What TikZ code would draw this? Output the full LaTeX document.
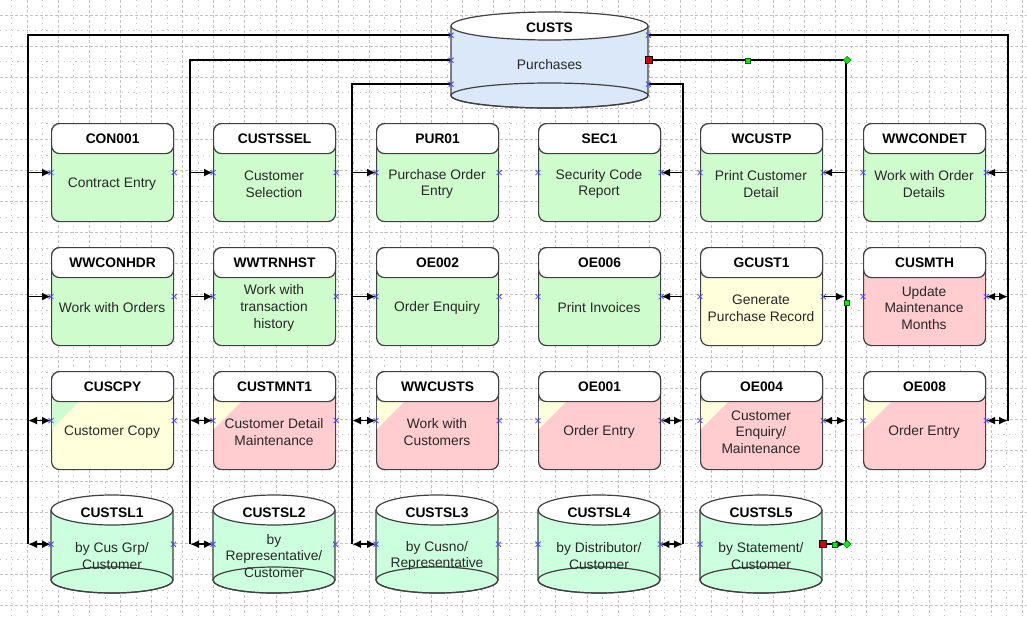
\documentclass[tikz,border=0pt]{standalone}
\usepackage{fontspec}
\setmainfont{Liberation Sans}
\usetikzlibrary{arrows.meta,calc,shapes.geometric}

\definecolor{bxgreen}{RGB}{206,252,204}
\definecolor{bxyellow}{RGB}{255,255,220}
\definecolor{bxpink}{RGB}{255,204,208}
\definecolor{bxmint}{RGB}{204,255,222}
\definecolor{bxblue}{RGB}{218,232,250}
\definecolor{outl}{RGB}{64,64,64}
\definecolor{txt}{RGB}{40,40,40}
\definecolor{gridc}{RGB}{195,195,195}
\definecolor{xblue}{RGB}{70,70,255}
\definecolor{mkred}{RGB}{210,0,0}
\definecolor{mkgreen}{RGB}{20,230,20}

\newcommand\hdfont{\fontsize{13.8}{16.6}\selectfont\bfseries}
\newcommand\bdfont{\fontsize{13.8}{16.6}\selectfont}

\tikzset{
  boxbody/.style={draw=outl, line width=1.2pt, rounded corners=8pt, minimum width=122pt,
    minimum height=98pt, inner sep=0pt, anchor=north west},
  boxhead/.style={draw=outl, fill=white, line width=1.2pt, rounded corners=8pt, minimum width=122pt,
    minimum height=30pt, inner sep=0pt, anchor=north west, font=\hdfont, text=black},
  boxtext/.style={align=center, font=\bdfont, text=txt, inner sep=0pt},
  cylnode/.style={minimum width=122pt, minimum height=98pt, inner sep=0pt, anchor=north west},
  cylline/.style={draw=outl, line width=1.2pt},
  conn/.style={line width=1.7pt, black},
  arr/.style={conn, -{Latex[length=9pt,width=8pt]}},
  darr/.style={conn, {Latex[length=9pt,width=8pt]}-{Latex[length=9pt,width=8pt]}},
  xm/.style={draw=xblue, line width=0.8pt},
  redsq/.style={draw=black, fill=mkred, line width=0.6pt, minimum size=7pt, inner sep=0pt},
  grnsq/.style={draw=black!60!green, fill=mkgreen, line width=0.4pt, minimum size=5pt, inner sep=0pt},
  grndia/.style={diamond, draw=black!60!green, fill=mkgreen, line width=0.4pt, minimum size=8pt, inner sep=0pt},
  majorgrid/.style={draw=gridc, line width=0.9pt, dash pattern=on 3pt off 2pt},
  minorgrid/.style={draw=gridc, line width=0.9pt, dash pattern=on 1.2pt off 4.6pt}
}

\newcommand\xmk[1]{\draw[xm] (#1) +(-2.5,-2.5) -- +(2.5,2.5) +(-2.5,2.5) -- +(2.5,-2.5);}

% name, x, y, fill, header, text, triangle colour
\newcommand\pbox[7]{%
  \node[boxbody, fill=#4] (#1) at (#2,#3) {};
  \ifx&#7&\else \fill[#7] ({#2+0.8},{#3+30}) -- ({#2+29},{#3+30}) -- ({#2+0.8},{#3+58}) -- cycle;\fi
  \node[boxhead] (#1-h) at (#2,#3) {#5};
  \node[boxtext] (#1-t) at ({#2+61},{#3+61}) {#6};
}

% name, x, y, header, text
\newcommand\cylbox[5]{%
  \node[cylnode] (#1) at (#2,#3) {};
  \filldraw[cylline, fill=bxmint] (#2,{#3+15}) -- (#2,{#3+85})
     arc[start angle=180, end angle=360, x radius=61pt, y radius=13pt] -- ({#2+122},{#3+15});
  \draw[cylline] ({#2+61},{#3+85}) ellipse [x radius=61pt, y radius=13pt];
  \filldraw[cylline, fill=white] ({#2+61},{#3+15}) ellipse [x radius=61pt, y radius=15pt];
  \node[font=\hdfont, inner sep=0pt] (#1-h) at ({#2+61},{#3+18}) {#4};
  \node[boxtext] (#1-t) at ({#2+61},{#3+61}) {#5};
}

\begin{document}
\begin{tikzpicture}[x=1pt, y=-1pt]
\useasboundingbox (0,0) rectangle (1027,616);
\fill[white] (0,0) rectangle (1027,616);

% grid
\foreach \i in {0,...,33} {
  \draw[majorgrid] ({-3.9+31.1*\i},0) -- ({-3.9+31.1*\i},616);
  \draw[minorgrid] ({11.65+31.1*\i},0) -- ({11.65+31.1*\i},616);
}
\foreach \i in {0,...,20} {
  \draw[majorgrid] (0,{15+31.1*\i}) -- (1027,{15+31.1*\i});
  \draw[minorgrid] (0,{-0.55+31.1*\i}) -- (1027,{-0.55+31.1*\i});
}

% CUSTS cylinder
\node[minimum width=197pt, minimum height=96pt, inner sep=0pt, anchor=north west] (custs) at (451,12) {};
\filldraw[cylline, fill=bxblue] (451,26) -- (451,95.5)
   arc[start angle=180, end angle=360, x radius=98.5pt, y radius=12.5pt] -- (648,26);
\draw[cylline] (549.5,95.5) ellipse [x radius=98.5pt, y radius=12.5pt];
\filldraw[cylline, fill=white] (549.5,26) ellipse [x radius=98.5pt, y radius=14pt];
\node[font=\hdfont, inner sep=0pt] (custs-h) at (549.5,28) {CUSTS};
\node[boxtext] (custs-t) at (549.5,65) {Purchases};

% row 1
\pbox{con001}{51}{123}{bxgreen}{CON001}{Contract Entry}{}
\pbox{custssel}{213}{123}{bxgreen}{CUSTSSEL}{Customer\\Selection}{}
\pbox{pur01}{376}{123}{bxgreen}{PUR01}{Purchase Order\\Entry}{}
\pbox{sec1}{538}{123}{bxgreen}{SEC1}{Security Code\\Report}{}
\pbox{wcustp}{700}{123}{bxgreen}{WCUSTP}{Print Customer\\Detail}{}
\pbox{wwcondet}{863}{123}{bxgreen}{WWCONDET}{Work with Order\\Details}{}
% row 2
\pbox{wwconhdr}{51}{247}{bxgreen}{WWCONHDR}{Work with Orders}{}
\pbox{wwtrnhst}{213}{247}{bxgreen}{WWTRNHST}{Work with\\transaction\\history}{}
\pbox{oe002}{376}{247}{bxgreen}{OE002}{Order Enquiry}{}
\pbox{oe006}{538}{247}{bxgreen}{OE006}{Print Invoices}{}
\pbox{gcust1}{700}{247}{bxyellow}{GCUST1}{Generate\\Purchase Record}{}
\pbox{cusmth}{863}{247}{bxpink}{CUSMTH}{Update\\Maintenance\\Months}{}
% row 3
\pbox{cuscpy}{51}{371}{bxyellow}{CUSCPY}{Customer Copy}{bxgreen}
\pbox{custmnt1}{213}{371}{bxpink}{CUSTMNT1}{Customer Detail\\Maintenance}{bxyellow}
\pbox{wwcusts}{376}{371}{bxpink}{WWCUSTS}{Work with\\Customers}{bxyellow}
\pbox{oe001}{538}{371}{bxpink}{OE001}{Order Entry}{bxyellow}
\pbox{oe004}{700}{371}{bxpink}{OE004}{Customer\\Enquiry/\\Maintenance}{bxyellow}
\pbox{oe008}{863}{371}{bxpink}{OE008}{Order Entry}{bxyellow}
% row 4
\cylbox{custsl1}{51}{495}{CUSTSL1}{by Cus Grp/\\Customer}
\cylbox{custsl2}{213}{495}{CUSTSL2}{by\\Representative/\\Customer}
\cylbox{custsl3}{376}{495}{CUSTSL3}{by Cusno/\\Representative}
\cylbox{custsl4}{538}{495}{CUSTSL4}{by Distributor/\\Customer}
\cylbox{custsl5}{700}{495}{CUSTSL5}{by Statement/\\Customer}

% bus columns
\coordinate (busA) at (28,0);
\coordinate (busB) at (190,0);
\coordinate (busC) at (352,0);
\coordinate (busE) at (683,0);
\coordinate (busF) at (846,0);
\coordinate (busD) at (1008,0);

% trunks
\draw[conn] ($(custs.west)+(0,-25)$) -| (busA |- custsl1.west);
\draw[conn] (custs.west) -| (busB |- custsl2.west);
\draw[conn] ($(custs.west)+(0,24)$) -| (busC |- custsl3.west);
\draw[conn] ($(custs.east)+(0,-25)$) -| (busD |- oe008.east);
\draw[conn] (custs.east) -| (busF |- custsl5.east);
\draw[conn] ($(custs.east)+(0,24)$) -| (busE |- custsl4.east);

% branches
\foreach \n in {con001,wwconhdr} \draw[arr] (busA |- \n.west) -- (\n.west);
\foreach \n in {cuscpy,custsl1} \draw[darr] (busA |- \n.west) -- (\n.west);
\foreach \n in {custssel,wwtrnhst} \draw[arr] (busB |- \n.west) -- (\n.west);
\foreach \n in {custmnt1,custsl2} \draw[darr] (busB |- \n.west) -- (\n.west);
\foreach \n in {pur01,oe002} \draw[arr] (busC |- \n.west) -- (\n.west);
\foreach \n in {wwcusts,custsl3} \draw[darr] (busC |- \n.west) -- (\n.west);
\foreach \n in {sec1,oe006} \draw[arr] (busE |- \n.east) -- (\n.east);
\foreach \n in {oe001,custsl4} \draw[darr] (busE |- \n.east) -- (\n.east);
\draw[arr] (busF |- wcustp.east) -- (wcustp.east);
\draw[arr] (gcust1.east) -- ($(busF |- gcust1.east)+(-1,0)$);
\draw[darr] (busF |- oe004.east) -- (oe004.east);
\draw[arr] (custsl5.east) -- ($(busF |- custsl5.east)+(-1,0)$);
\draw[arr] (busD |- wwcondet.east) -- (wwcondet.east);
\foreach \n in {cusmth,oe008} \draw[darr] (busD |- \n.east) -- (\n.east);

% connection point marks
\foreach \n in {con001,custssel,pur01,sec1,wcustp,wwcondet,
                wwconhdr,wwtrnhst,oe002,oe006,gcust1,cusmth,
                cuscpy,custmnt1,wwcusts,oe001,oe004,oe008,
                custsl1,custsl2,custsl3,custsl4} {\xmk{\n.west}\xmk{\n.east}}
\xmk{custsl5.west}
\xmk{custs.west}
\xmk{$(custs.west)+(0,-25)$}
\xmk{$(custs.west)+(0,24)$}
\xmk{$(custs.east)+(0,-25)$}
\xmk{$(custs.east)+(0,24)$}

% selection markers
\node[redsq] (m1) at (custs.east) {};
\node[grnsq] (m2) at ($(custs.east)!0.5!(busF |- custs.east)$) {};
\node[grndia] (m3) at ($(busF |- custs.east)+(1,0)$) {};
\node[grnsq] (m4) at ($(busF |- gcust1.east)+(1,6)$) {};
\node[redsq] (m5) at (custsl5.east) {};
\node[grnsq] (m6) at ($(custsl5.east)+(12,0)$) {};
\node[grndia] (m7) at ($(busF |- custsl5.east)+(1,0)$) {};
\end{tikzpicture}
\end{document}
